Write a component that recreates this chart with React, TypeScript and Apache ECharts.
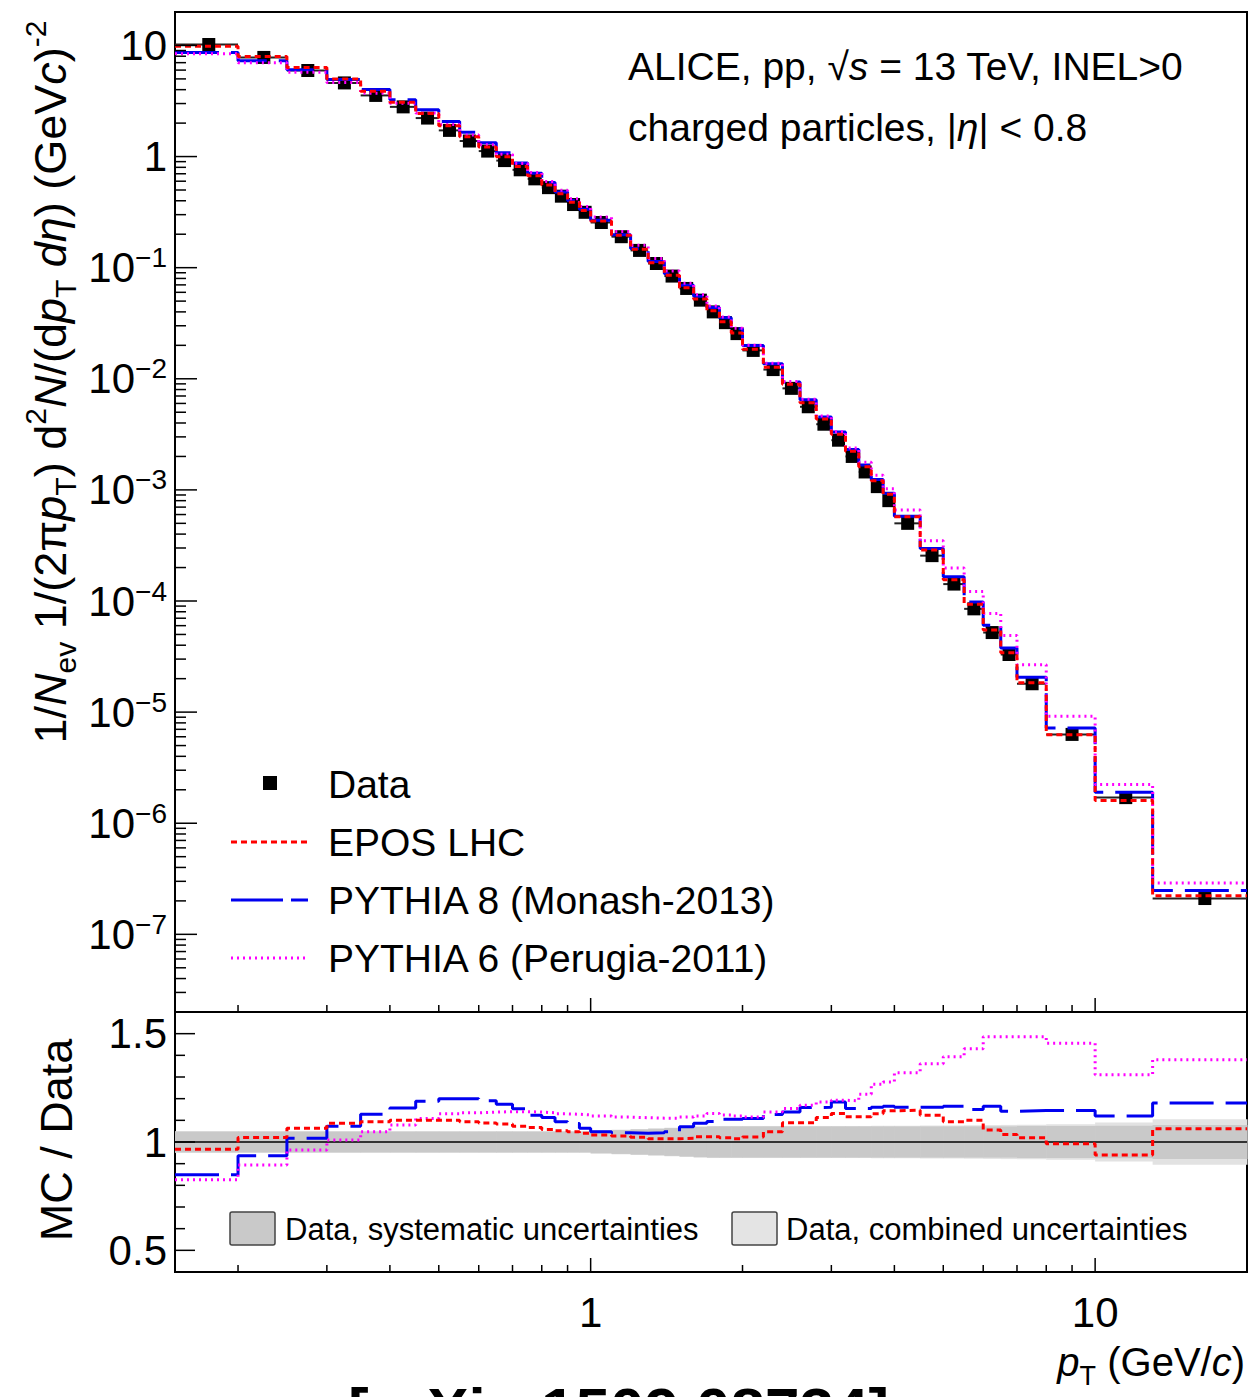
import React, { useEffect, useRef } from 'react';
import * as echarts from 'echarts';

// pT bin edges (GeV/c)
const binEdges = [0.15, 0.2, 0.25, 0.3, 0.35, 0.4, 0.45, 0.5, 0.55, 0.6, 0.65, 0.7, 0.75, 0.8, 0.85, 0.9, 0.95, 1.0,
  1.1, 1.2, 1.3, 1.4, 1.5, 1.6, 1.7, 1.8, 1.9, 2.0, 2.2, 2.4, 2.6, 2.8, 3.0, 3.2, 3.4, 3.6, 3.8, 4.0,
  4.5, 5.0, 5.5, 6.0, 6.5, 7.0, 8.0, 10.0, 13.0, 20.0];

// Measured yield per bin
const dataYield = [10.2, 7.8, 5.95, 4.6, 3.55, 2.8, 2.22, 1.72, 1.38, 1.12, 0.92, 0.76, 0.63, 0.525, 0.44, 0.37, 0.315,
  0.255, 0.19, 0.143, 0.109, 0.084, 0.065, 0.051, 0.040, 0.032, 0.0255,
  0.018, 0.0121, 0.0082, 0.0056, 0.0039, 0.0028, 0.0020, 0.00145, 0.00107, 0.00080,
  0.00050, 0.000256, 0.000142, 8.5e-5, 5.2e-5, 3.3e-5, 1.8e-5, 6.3e-6, 1.7e-6, 2.1e-7];

// MC / Data ratios per bin
const eposRatio = [0.966, 1.021, 1.063, 1.086, 1.093, 1.10, 1.10, 1.10, 1.093, 1.088, 1.083, 1.073, 1.067, 1.058, 1.052, 1.047, 1.04,
  1.032, 1.028, 1.022, 1.015, 1.015, 1.017, 1.024, 1.024, 1.02, 1.015,
  1.023, 1.047, 1.089, 1.089, 1.113, 1.131, 1.116, 1.116, 1.13, 1.144,
  1.147, 1.124, 1.093, 1.10, 1.055, 1.035, 1.02, 0.992, 0.94, 1.061];
const pythia8Ratio = [0.849, 0.936, 1.017, 1.073, 1.128, 1.157, 1.188, 1.20, 1.20, 1.19, 1.174, 1.154, 1.124, 1.113, 1.093, 1.085, 1.063,
  1.047, 1.043, 1.04, 1.043, 1.047, 1.07, 1.086, 1.095, 1.105, 1.105,
  1.109, 1.127, 1.139, 1.159, 1.16, 1.185, 1.155, 1.155, 1.16, 1.165,
  1.16, 1.16, 1.165, 1.15, 1.165, 1.142, 1.145, 1.145, 1.12, 1.18];
const pythia6Ratio = [0.826, 0.894, 0.963, 1.009, 1.047, 1.078, 1.109, 1.13, 1.135, 1.138, 1.14, 1.14, 1.138, 1.135, 1.13, 1.128, 1.125,
  1.12, 1.115, 1.112, 1.11, 1.11, 1.115, 1.12, 1.131, 1.125, 1.12,
  1.115, 1.139, 1.155, 1.17, 1.185, 1.193, 1.19, 1.22, 1.266, 1.277,
  1.32, 1.361, 1.394, 1.43, 1.486, 1.486, 1.486, 1.456, 1.31, 1.38];

// Relative data uncertainties per bin
const sysUnc = [0.048, 0.048, 0.048, 0.048, 0.048, 0.048, 0.048, 0.048, 0.048, 0.048, 0.048, 0.048, 0.048, 0.048, 0.048, 0.048, 0.048,
  0.052, 0.055, 0.058, 0.061, 0.064, 0.067, 0.07, 0.072, 0.072, 0.072,
  0.072, 0.072, 0.072, 0.072, 0.072, 0.072, 0.072, 0.072, 0.072, 0.072,
  0.072, 0.072, 0.072, 0.072, 0.072, 0.072, 0.074, 0.074, 0.075, 0.078];
const combUnc = [0.05, 0.05, 0.05, 0.05, 0.05, 0.05, 0.05, 0.05, 0.05, 0.05, 0.05, 0.05, 0.05, 0.05, 0.05, 0.05, 0.05,
  0.054, 0.057, 0.06, 0.063, 0.066, 0.069, 0.072, 0.074, 0.074, 0.074,
  0.074, 0.074, 0.074, 0.074, 0.074, 0.074, 0.074, 0.074, 0.075, 0.075,
  0.075, 0.076, 0.076, 0.077, 0.078, 0.079, 0.08, 0.082, 0.09, 0.105];

// Axis ticks & labels
const xMajorTicks = [1, 10];
const xMajorLabels = ['1', '10'];
const xMinorTicks = [0.2, 0.3, 0.4, 0.5, 0.6, 0.7, 0.8, 0.9, 2, 3, 4, 5, 6, 7, 8, 9];
const yMajorTicks = [1e-7, 1e-6, 1e-5, 1e-4, 1e-3, 1e-2, 1e-1, 1, 10];
const yMajorLabels = ['{b|10}{s|−7}', '{b|10}{s|−6}', '{b|10}{s|−5}', '{b|10}{s|−4}', '{b|10}{s|−3}', '{b|10}{s|−2}', '{b|10}{s|−1}', '{b|1}', '{b|10}'];
const ratioMajorTicks = [0.5, 1, 1.5];
const ratioMajorLabels = ['0.5', '1', '1.5'];
const ratioMinorTicks = [0.6, 0.7, 0.8, 0.9, 1.1, 1.2, 1.3, 1.4];

const X_MIN = 0.15, X_MAX = 20, Y_MIN = 2e-8, Y_MAX = 20, R_MIN = 0.4, R_MAX = 1.6;
const FONT = '"Liberation Sans", Arial, Helvetica, sans-serif';

const RED = '#ff0000', BLUE = '#0000f0', MAGENTA = '#ff00ff';
const redDash = [6, 4], blueDash = [44, 12], magDash = [2, 4];

function yMinorList(): number[] {
  const out: number[] = [];
  for (let d = -8; d <= 1; d++) {
    for (let k = 2; k <= 9; k++) {
      const v = k * Math.pow(10, d);
      if (v > Y_MIN * 1.0001 && v < Y_MAX * 0.9999) out.push(v);
    }
  }
  return out;
}

function stepPoints(values: number[]) {
  const pts: number[][] = [];
  values.forEach((v, i) => {
    pts.push([binEdges[i], v]);
    pts.push([binEdges[i + 1], v]);
  });
  return pts;
}

function xTicks(grid: number, values: number[], len: number, yRef: number) {
  return {
    type: 'custom', xAxisIndex: grid, yAxisIndex: grid, silent: true, clip: false, z: 20,
    data: values.map((v) => [v, yRef]),
    renderItem: (params: any, api: any) => {
      const cs = params.coordSys;
      const p = api.coord([api.value(0), yRef]);
      const b = cs.y + cs.height;
      return { type: 'line', shape: { x1: p[0], y1: b, x2: p[0], y2: b - len }, style: { stroke: '#000', lineWidth: 1.5 } };
    },
  };
}

function yTicks(grid: number, values: number[], len: number, xRef: number) {
  return {
    type: 'custom', xAxisIndex: grid, yAxisIndex: grid, silent: true, clip: false, z: 20,
    data: values.map((v) => [xRef, v]),
    renderItem: (params: any, api: any) => {
      const cs = params.coordSys;
      const p = api.coord([xRef, api.value(1)]);
      return { type: 'line', shape: { x1: cs.x, y1: p[1], x2: cs.x + len, y2: p[1] }, style: { stroke: '#000', lineWidth: 1.5 } };
    },
  };
}

const labelRich = {
  b: { fontSize: 42, lineHeight: 48, fontFamily: FONT, fill: '#000' },
  s: { fontSize: 28, lineHeight: 30, fontFamily: FONT, fill: '#000', verticalAlign: 'top' },
};

function yLabels(grid: number, values: number[], labels: string[], xRef: number) {
  return {
    type: 'custom', xAxisIndex: grid, yAxisIndex: grid, silent: true, clip: false, z: 20,
    data: values.map((v) => [xRef, v]),
    renderItem: (params: any, api: any) => {
      const cs = params.coordSys;
      const p = api.coord([xRef, api.value(1)]);
      const t = labels[params.dataIndex];
      return {
        type: 'text', x: cs.x - 8, y: p[1],
        style: {
          text: t.startsWith('{') ? t : '{b|' + t + '}', rich: labelRich, fill: '#000', fontFamily: FONT, fontSize: 42,
          align: 'right', verticalAlign: 'middle', textAlign: 'right', textVerticalAlign: 'middle',
        },
      };
    },
  };
}

function xLabels(grid: number, values: number[], labels: string[], yRef: number) {
  return {
    type: 'custom', xAxisIndex: grid, yAxisIndex: grid, silent: true, clip: false, z: 20,
    data: values.map((v) => [v, yRef]),
    renderItem: (params: any, api: any) => {
      const cs = params.coordSys;
      const p = api.coord([api.value(0), yRef]);
      return {
        type: 'text', x: p[0], y: cs.y + cs.height + 40,
        style: {
          text: '{b|' + labels[params.dataIndex] + '}', rich: labelRich, fill: '#000', fontFamily: FONT, fontSize: 42,
          align: 'center', verticalAlign: 'middle', textAlign: 'center', textVerticalAlign: 'middle',
        },
      };
    },
  };
}

function stepLine(grid: number, values: number[], color: string, dash: number[], z: number) {
  return {
    type: 'line', xAxisIndex: grid, yAxisIndex: grid, data: stepPoints(values), showSymbol: false, symbol: 'none',
    silent: true, z, lineStyle: { color, width: 3, type: dash, cap: 'butt' },
  };
}

function bandSeries(unc: number[], color: string, z: number) {
  return {
    type: 'custom', xAxisIndex: 1, yAxisIndex: 1, silent: true, z,
    data: unc.map((u, i) => [binEdges[i], 1, binEdges[i + 1], u]),
    renderItem: (params: any, api: any) => {
      const u = api.value(3);
      const a = api.coord([api.value(0), 1 + u]);
      const b = api.coord([api.value(2), 1 - u]);
      return { type: 'rect', shape: { x: a[0], y: a[1], width: b[0] - a[0] + 0.5, height: b[1] - a[1] }, style: { fill: color } };
    },
  };
}

const titleRich = {
  r: { fontSize: 45, lineHeight: 60, fontFamily: FONT, fill: '#000' },
  i: { fontSize: 45, lineHeight: 60, fontFamily: FONT, fontStyle: 'italic', fill: '#000' },
  sub: { fontSize: 30, lineHeight: 30, fontFamily: FONT, fill: '#000', verticalAlign: 'bottom' },
  sup: { fontSize: 30, lineHeight: 30, fontFamily: FONT, fill: '#000', verticalAlign: 'top' },
};

const xTitleRich = {
  r: { fontSize: 40, lineHeight: 54, fontFamily: FONT, fill: '#000' },
  i: { fontSize: 40, lineHeight: 54, fontFamily: FONT, fontStyle: 'italic', fill: '#000' },
  sub: { fontSize: 27, lineHeight: 27, fontFamily: FONT, fill: '#000', verticalAlign: 'bottom' },
};

const textRich = {
  r: { fontSize: 39, fontFamily: FONT, fill: '#000' },
  i: { fontSize: 39, fontFamily: FONT, fontStyle: 'italic', fill: '#000' },
};

function txt(x: number, y: number, text: string, fontSize: number, align = 'left') {
  return {
    type: 'text', x, y, silent: true, z: 30,
    style: { text, fill: '#000', fontFamily: FONT, fontSize, align, verticalAlign: 'middle', textAlign: align, textVerticalAlign: 'middle' },
  };
}

export default function App() {
  const ref = useRef<HTMLDivElement>(null);
  useEffect(() => {
    if (!ref.current) return;
    const chart = echarts.init(ref.current, undefined, { renderer: 'svg' });
    const mcTop = (r: number[]) => dataYield.map((d, i) => d * r[i]);
    const hiddenAxis = { axisLine: { show: false }, axisTick: { show: false }, axisLabel: { show: false }, splitLine: { show: false } };
    const option: any = {
      animation: false,
      backgroundColor: '#fff',
      grid: [
        { left: 175, top: 12, width: 1072, height: 1000, show: true, borderColor: '#000', borderWidth: 2, backgroundColor: 'rgba(0,0,0,0)' },
        { left: 175, top: 1012, width: 1072, height: 260, show: true, borderColor: '#000', borderWidth: 2, backgroundColor: 'rgba(0,0,0,0)' },
      ],
      xAxis: [
        { type: 'log', logBase: 10, min: X_MIN, max: X_MAX, gridIndex: 0, ...hiddenAxis },
        { type: 'log', logBase: 10, min: X_MIN, max: X_MAX, gridIndex: 1, ...hiddenAxis },
      ],
      yAxis: [
        { type: 'log', logBase: 10, min: Y_MIN, max: Y_MAX, gridIndex: 0, ...hiddenAxis },
        { type: 'value', min: R_MIN, max: R_MAX, gridIndex: 1, ...hiddenAxis },
      ],
      series: [
        // top panel: data
        {
          type: 'custom', xAxisIndex: 0, yAxisIndex: 0, silent: true, z: 2,
          data: dataYield.map((v, i) => [(binEdges[i] + binEdges[i + 1]) / 2, v, binEdges[i], binEdges[i + 1]]),
          renderItem: (params: any, api: any) => {
            const c = api.coord([api.value(0), api.value(1)]);
            const l = api.coord([api.value(2), api.value(1)]);
            const r = api.coord([api.value(3), api.value(1)]);
            return {
              type: 'group', children: [
                { type: 'line', shape: { x1: l[0], y1: c[1], x2: r[0], y2: c[1] }, style: { stroke: '#222', lineWidth: 2 } },
                { type: 'rect', shape: { x: c[0] - 6.5, y: c[1] - 6.5, width: 13, height: 13 }, style: { fill: '#000' } },
              ],
            };
          },
        },
        stepLine(0, mcTop(pythia8Ratio), BLUE, blueDash, 3),
        stepLine(0, mcTop(pythia6Ratio), MAGENTA, magDash, 4),
        stepLine(0, mcTop(eposRatio), RED, redDash, 5),
        xTicks(0, xMajorTicks, 14, 1),
        xTicks(0, xMinorTicks, 7, 1),
        yTicks(0, yMajorTicks, 22, 1),
        yTicks(0, yMinorList(), 11, 1),
        yLabels(0, yMajorTicks, yMajorLabels, 1),
        // ratio panel
        bandSeries(combUnc, '#e2e2e2', 1),
        bandSeries(sysUnc, '#c9c9c9', 2),
        {
          type: 'line', xAxisIndex: 1, yAxisIndex: 1, data: [[X_MIN, 1], [X_MAX, 1]], showSymbol: false, symbol: 'none', silent: true, z: 3,
          lineStyle: { color: '#333', width: 2 },
        },
        stepLine(1, pythia8Ratio, BLUE, blueDash, 4),
        stepLine(1, pythia6Ratio, MAGENTA, magDash, 5),
        stepLine(1, eposRatio, RED, redDash, 6),
        xTicks(1, xMajorTicks, 14, 1),
        xTicks(1, xMinorTicks, 7, 1),
        yTicks(1, ratioMajorTicks, 20, 1),
        yTicks(1, ratioMinorTicks, 10, 1),
        yLabels(1, ratioMajorTicks, ratioMajorLabels, 1),
        xLabels(1, xMajorTicks, xMajorLabels, 1),
      ],
      graphic: [
        // header text
        { type: 'text', x: 628, y: 66, silent: true, style: { text: '{r|ALICE, pp, √}{i|s}{r| = 13 TeV, INEL>0}', rich: textRich, fill: '#000', fontFamily: FONT, fontSize: 39, align: 'left', verticalAlign: 'middle', textAlign: 'left', textVerticalAlign: 'middle' } },
        { type: 'text', x: 628, y: 127, silent: true, style: { text: '{r|charged particles, |}{i|η}{r|| < 0.8}', rich: textRich, fill: '#000', fontFamily: FONT, fontSize: 39, align: 'left', verticalAlign: 'middle', textAlign: 'left', textVerticalAlign: 'middle' } },
        // legend top
        { type: 'rect', silent: true, shape: { x: 263, y: 776, width: 14, height: 14 }, style: { fill: '#000' } },
        { type: 'line', silent: true, shape: { x1: 231, y1: 842, x2: 308, y2: 842 }, style: { stroke: RED, lineWidth: 3, lineDash: redDash } },
        { type: 'line', silent: true, shape: { x1: 231, y1: 900, x2: 308, y2: 900 }, style: { stroke: BLUE, lineWidth: 3, lineDash: [52, 8] } },
        { type: 'line', silent: true, shape: { x1: 231, y1: 958, x2: 308, y2: 958 }, style: { stroke: MAGENTA, lineWidth: 3, lineDash: magDash } },
        txt(328, 784, 'Data', 39),
        txt(328, 842, 'EPOS LHC', 39),
        txt(328, 900, 'PYTHIA 8 (Monash-2013)', 39),
        txt(328, 958, 'PYTHIA 6 (Perugia-2011)', 39),
        // ratio legend
        { type: 'rect', silent: true, shape: { x: 230, y: 1212, width: 45, height: 33, r: 2 }, style: { fill: '#c9c9c9', stroke: '#444', lineWidth: 1.5 } },
        txt(285, 1229, 'Data, systematic uncertainties', 31),
        { type: 'rect', silent: true, shape: { x: 732, y: 1212, width: 45, height: 33, r: 2 }, style: { fill: '#e4e4e4', stroke: '#444', lineWidth: 1.5 } },
        txt(786, 1229, 'Data, combined uncertainties', 31),
        // axis titles
        {
          type: 'text', x: 50, y: 382, rotation: Math.PI / 2, silent: true,
          style: {
            text: '{r|1/}{i|N}{sub|ev}{r| 1/(2π}{i|p}{sub|T}{r|) d}{sup|2}{i|N}{r|/(d}{i|p}{sub|T}{r| }{i|dη}{r|) (GeV}{i|c}{r|)}{sup|-2}',
            rich: titleRich, fill: '#000', fontFamily: FONT, fontSize: 45,
            align: 'center', verticalAlign: 'middle', textAlign: 'center', textVerticalAlign: 'middle',
          },
        },
        {
          type: 'text', x: 56, y: 1140, rotation: Math.PI / 2, silent: true,
          style: { text: 'MC / Data', fill: '#000', fontFamily: FONT, fontSize: 45, align: 'center', verticalAlign: 'middle', textAlign: 'center', textVerticalAlign: 'middle' },
        },
        {
          type: 'text', x: 1245, y: 1362, silent: true,
          style: {
            text: '{i|p}{sub|T}{r| (GeV/}{i|c}{r|)}', rich: xTitleRich, fill: '#000', fontFamily: FONT, fontSize: 40,
            align: 'right', verticalAlign: 'middle', textAlign: 'right', textVerticalAlign: 'middle',
          },
        },
        // cut-off reference text at the bottom (as in the source image)
        {
          type: 'text', x: 348, y: 1409, silent: true,
          style: { text: '[arXiv:1509.08734]', fill: '#000', fontFamily: FONT, fontSize: 62, fontWeight: 'bold', align: 'left', verticalAlign: 'middle', textAlign: 'left', textVerticalAlign: 'middle' },
        },
      ],
    };
    chart.setOption(option);
    return () => chart.dispose();
  }, []);
  return <div ref={ref} style={{ position: 'absolute', left: 0, top: 0, width: 1250, height: 1397, background: '#fff' }} />;
}
